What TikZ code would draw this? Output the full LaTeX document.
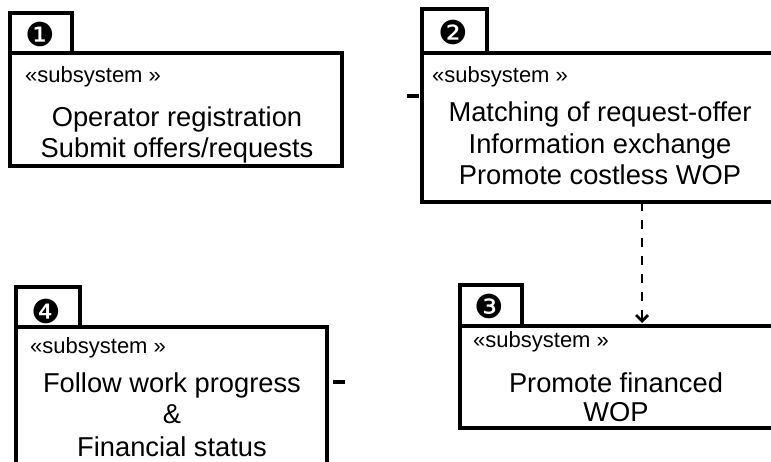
\documentclass[tikz,border=0pt]{standalone}
\usepackage{fontspec}
\setmainfont{Liberation Sans}
\newfontfamily\dingfont{DejaVu Sans}
\usetikzlibrary{arrows.meta}
\tikzset{
  frame/.style={draw=black, line width=3.6pt, rectangle, inner sep=0pt, outer sep=0pt, anchor=north west},
  stereo/.style={font=\fontsize{22}{26}\selectfont, inner sep=0pt, anchor=base west},
  mainline/.style={font=\fontsize{27.3}{32}\selectfont, inner sep=0pt, anchor=base},
  numtag/.style={font=\dingfont\fontsize{33}{38}\selectfont, inner sep=0pt},
  stub/.style={line width=3.6pt},
  depend/.style={line width=2.6pt, dash pattern=on 9pt off 9pt, -{Straight Barb[length=6pt,width=12pt,line width=2.8pt]}}
}
\begin{document}
\begin{tikzpicture}[x=1pt,y=-1pt]
\clip (0,0) rectangle (771,461);
\fill[white] (0,0) rectangle (771,461);

% subsystem 1
\node[frame, minimum width=62pt, minimum height=40pt] (tab1) at (10,13) {};
\node[frame, minimum width=332pt, minimum height=113pt] (body1) at (10,53) {};
\node[numtag] (n1) at (40,34) {❶};
\node[stereo] (s1) at (25,82) {«subsystem »};
\node[mainline] (l1a) at (177,126) {Operator registration};
\node[mainline] (l1b) at (177,157) {Submit offers/requests};

% subsystem 2
\node[frame, minimum width=65pt, minimum height=44pt] (tab2) at (422,9) {};
\node[frame, minimum width=356pt, minimum height=149pt] (body2) at (422,53) {};
\node[numtag] (n2) at (453,32) {❷};
\node[stereo] (s2) at (432,82) {«subsystem »};
\node[mainline] (l2a) at (600,121) {Matching of request-offer};
\node[mainline] (l2b) at (600,153) {Information exchange};
\node[mainline] (l2c) at (600,184) {Promote costless WOP};

% subsystem 3
\node[frame, minimum width=62pt, minimum height=41pt] (tab3) at (460,285) {};
\node[frame, minimum width=318pt, minimum height=102pt] (body3) at (460,326) {};
\node[numtag] (n3) at (489,306) {❸};
\node[stereo] (s3) at (473,347) {«subsystem »};
\node[mainline] (l3a) at (616,392) {Promote financed};
\node[mainline] (l3b) at (616,421) {WOP};

% subsystem 4
\node[frame, minimum width=64pt, minimum height=40pt] (tab4) at (16,287) {};
\node[frame, minimum width=311pt, minimum height=160pt] (body4) at (16,327) {};
\node[numtag] (n4) at (46,311) {❹};
\node[stereo] (s4) at (30,353) {«subsystem »};
\node[mainline] (l4a) at (172,392) {Follow work progress};
\node[mainline] (l4b) at (172,423) {\&};
\node[mainline] (l4c) at (172,456) {Financial status};

% connector stubs
\coordinate (st2a) at (407,96);
\coordinate (st2b) at (419,96);
\draw[stub] (st2a) -- (st2b);
\coordinate (st4a) at (333,382);
\coordinate (st4b) at (345,382);
\draw[stub] (st4a) -- (st4b);

% dependency 2 -> 3
\coordinate (ax) at (642,0);
\draw[depend, shorten >=3pt] (body2.south -| ax) -- (body3.north -| ax);
\end{tikzpicture}
\end{document}
